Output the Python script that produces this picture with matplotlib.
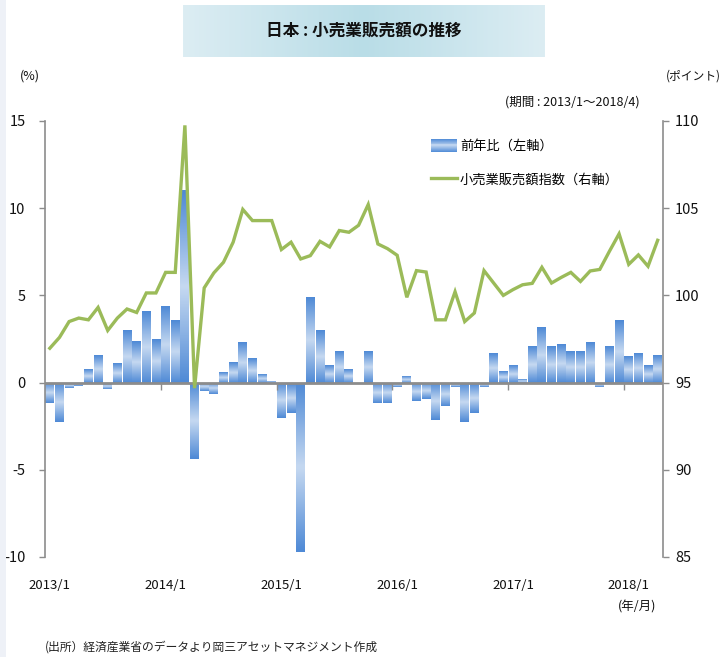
import numpy as np
import matplotlib
matplotlib.use('Agg')
import matplotlib.pyplot as plt
from matplotlib.colors import LinearSegmentedColormap
from matplotlib.patches import Rectangle
from matplotlib.legend_handler import HandlerBase
from matplotlib.lines import Line2D

plt.rcParams['font.family'] = ['Noto Sans CJK JP', 'DejaVu Sans']

# 前年比 (%), 2013/1 - 2018/4
yoy = [
    -1.15, -2.24, -0.33, -0.20, 0.80, 1.59, -0.34, 1.13, 3.03, 2.39, 4.12, 2.51,
    4.41, 3.60, 11.03, -4.37, -0.46, -0.65, 0.61, 1.19, 2.34, 1.42, 0.50, 0.10,
    -2.03, -1.72, -9.73, 4.92, 3.03, 1.02, 1.82, 0.80, -0.10, 1.82, -1.15, -1.15,
    -0.23, 0.38, -1.05, -0.92, -2.15, -1.32, -0.23, -2.24, -1.72, -0.23, 1.70, 0.67,
    1.02, 0.21, 2.10, 3.20, 2.10, 2.22, 1.82, 1.82, 2.34, -0.23, 2.10, 3.60,
    1.53, 1.70, 1.02, 1.59,
]

# 小売業販売額指数 (ポイント)
index = [
    96.97, 97.59, 98.50, 98.70, 98.60, 99.31, 97.99, 98.70, 99.22, 99.02, 100.14, 100.14,
    101.32, 101.32, 109.75, 94.68, 100.43, 101.29, 101.90, 103.05, 104.93, 104.29, 104.29, 104.29,
    102.63, 103.05, 102.09, 102.28, 103.10, 102.78, 103.72, 103.62, 104.02, 105.21, 102.95, 102.68,
    102.30, 99.89, 101.42, 101.34, 98.60, 98.60, 100.21, 98.50, 98.99, 101.42, 100.71, 100.00,
    100.33, 100.61, 100.69, 101.61, 100.71, 101.03, 101.32, 100.80, 101.40, 101.49, 102.53, 103.53,
    101.78, 102.32, 101.67, 103.16,
]

year_labels = ['2013/1', '2014/1', '2015/1', '2016/1', '2017/1', '2018/1']
left_ticks = [15, 10, 5, 0, -5, -10]
right_ticks = [110, 105, 100, 95, 90, 85]

grey = '#8c8c8c'
green = '#9bbb59'
bar_cmap = LinearSegmentedColormap.from_list('bar', ['#4f8ad6', '#c6d9f1', '#4f8ad6'])

fig = plt.figure(figsize=(7.23, 6.57), dpi=100)
fig.patches.append(Rectangle((0, 0), 6 / 723, 1, transform=fig.transFigure,
                             facecolor='#eef1f7', edgecolor='none'))

# title box with a soft horizontal gradient
tax = fig.add_axes([183 / 723, 1 - 57 / 657, 362 / 723, 52 / 657])
tcmap = LinearSegmentedColormap.from_list('tb', ['#dcedf3', '#b9dde7', '#dcedf3'])
tax.imshow(np.linspace(0, 1, 256).reshape(1, -1), cmap=tcmap, aspect='auto')
tax.axis('off')
tax.text(0.5, 0.5, '日本 : 小売業販売額の推移', transform=tax.transAxes,
         ha='center', va='center', fontsize=12, fontweight='bold', color='#111111')

ax = fig.add_axes([45 / 723, 1 - 557 / 657, 617.5 / 723, 436 / 657])
x = np.arange(len(yoy))
bars = ax.bar(x, yoy, width=0.92, color='none', edgecolor='none', zorder=2)
grad = np.linspace(0, 1, 64).reshape(-1, 1)
for b in bars:
    x0, w, h = b.get_x(), b.get_width(), b.get_height()
    im = ax.imshow(grad, cmap=bar_cmap, aspect='auto', origin='lower',
                   extent=[x0, x0 + w, 0, h], zorder=2, interpolation='bilinear')
    im.set_clip_path(b)

ax.axhline(0, color=grey, lw=2, zorder=3)
bounds = [i - 0.5 for i in range(12, len(yoy), 12)]
ax.vlines(bounds, -0.45, 0, color=grey, lw=1, zorder=3)

ax.set_xlim(-0.5, len(yoy) - 0.5)
ax.set_ylim(-10, 15)
ax.set_yticks(left_ticks)
ax.set_yticklabels([str(t) for t in left_ticks])
ax.set_xticks(list(range(0, len(yoy), 12)))
ax.set_xticklabels(year_labels)
ax.tick_params(axis='x', length=0, pad=16, labelsize=9.5, colors='#111111')
ax.tick_params(axis='y', length=4, color=grey, width=1, labelsize=10.5, labelcolor='#111111', pad=10)
for s in ['top', 'bottom', 'right']:
    ax.spines[s].set_visible(False)
ax.spines['left'].set_color(grey)
ax.spines['left'].set_linewidth(1.2)

ax2 = ax.twinx()
ax2.plot(x, index, color=green, lw=2.4, solid_joinstyle='miter', zorder=4)
ax2.set_ylim(85, 110)
ax2.set_yticks(right_ticks)
ax2.set_yticklabels([str(t) for t in right_ticks])
ax2.tick_params(axis='y', length=4, color=grey, width=1, labelsize=10.5, labelcolor='#111111', pad=5)
for s in ['top', 'bottom', 'left']:
    ax2.spines[s].set_visible(False)
ax2.spines['right'].set_color(grey)
ax2.spines['right'].set_linewidth(1.2)


class GradientHandler(HandlerBase):
    def create_artists(self, legend, orig_handle, xdescent, ydescent, width, height, fontsize, trans):
        n = 14
        arts = []
        for k in range(n):
            arts.append(Rectangle((-xdescent, -ydescent + k * height / n), width, height / n + 0.3,
                                  facecolor=bar_cmap((k + 0.5) / n), edgecolor='none', transform=trans))
        return arts


bar_handle = Rectangle((0, 0), 1, 1)
line_handle = Line2D([], [], color=green, lw=2.4)
fig.legend([bar_handle, line_handle], ['前年比（左軸）', '小売業販売額指数（右軸）'],
           handler_map={Rectangle: GradientHandler()},
           loc='upper left', bbox_to_anchor=(431 / 723, 1 - 139 / 657), frameon=False,
           fontsize=9.5, handlelength=2.0, handleheight=1.1, handletextpad=0.2,
           labelspacing=1.5, borderpad=0, borderaxespad=0)

fig.text(20 / 723, 1 - 76 / 657, '(%)', fontsize=9, va='center', ha='left', color='#111111')
fig.text(721 / 723, 1 - 76 / 657, '(ポイント)', fontsize=8.5, va='center', ha='right', color='#111111')
fig.text(640 / 723, 1 - 102 / 657, '(期間 : 2013/1～2018/4)', fontsize=9, va='center', ha='right',
         color='#111111')
fig.text(656 / 723, 1 - 607 / 657, '(年/月)', fontsize=9, va='center', ha='right', color='#111111')
fig.text(45 / 723, 1 - 647 / 657, '(出所）経済産業省のデータより岡三アセットマネジメント作成',
         fontsize=8.5, va='center', ha='left', color='#222222')

fig.savefig('out.png', dpi=100)
